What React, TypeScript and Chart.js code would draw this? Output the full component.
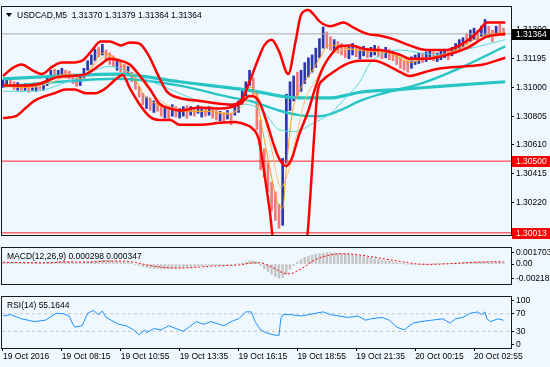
import React, { useEffect, useRef } from 'react';
import { Chart, registerables } from 'chart.js';
Chart.register(...registerables);

const FONT = '"Liberation Sans", Arial, sans-serif';
const FS = 8.5;
const BG = '#f0f8ff';
const UP = '#2b35b0';
const DOWN = '#f07a7a';

const mainTitle = 'USDCAD,M5  1.31370 1.31379 1.31364 1.31364';
const macdTitle = 'MACD(12,26,9) 0.000298 0.000347';
const rsiTitle = 'RSI(14) 55.1644';

const dateBars = [0, 32, 64, 96, 128, 160, 192, 224, 256];
const dateLabels = ['19 Oct 2016', '19 Oct 08:15', '19 Oct 10:55', '19 Oct 13:35', '19 Oct 16:15', '19 Oct 18:55', '19 Oct 21:35', '20 Oct 00:15', '20 Oct 02:55'];
const priceTicks = [1.3022, 1.30415, 1.3061, 1.30805, 1.31, 1.31195, 1.3139];
const macdTicks = [0.001703, 0, -0.002186];
const macdTickText = ['0.001703', '0.00', '-0.002186'];
const rsiTicks = [100, 70, 30, 0];

const barStep = 2;
const barHigh = [
  1.31052, 1.31065, 1.31059, 1.31039, 1.31033, 1.3102, 1.31026, 1.31013, 1.31026, 1.3102,
  1.31033, 1.31026, 1.31078, 1.31117, 1.31124, 1.31117, 1.3113, 1.31117, 1.31111, 1.31078,
  1.31065, 1.31078, 1.3113, 1.31182, 1.31221, 1.3126, 1.31273, 1.31293, 1.31254, 1.31234,
  1.31215, 1.31195, 1.31169, 1.31156, 1.31143, 1.31104, 1.31065, 1.31007, 1.30961, 1.30935,
  1.30929, 1.30909, 1.30903, 1.30883, 1.3087, 1.30857, 1.30883, 1.3087, 1.30857, 1.3087,
  1.30877, 1.3087, 1.30864, 1.30877, 1.30857, 1.30864, 1.3087, 1.30857, 1.30844, 1.30838,
  1.30831, 1.30844, 1.30818, 1.3089, 1.30909, 1.30974, 1.31039, 1.31117, 1.31065, 1.30974,
  1.30779, 1.30584, 1.30487, 1.30357, 1.30292, 1.30207, 1.30519, 1.30955, 1.31039, 1.31078,
  1.31104, 1.31117, 1.31169, 1.31202, 1.31221, 1.31267, 1.31332, 1.3141, 1.31377, 1.31345,
  1.31325, 1.31312, 1.31299, 1.31286, 1.31273, 1.31299, 1.31286, 1.31273, 1.3128, 1.31267,
  1.31273, 1.31286, 1.3128, 1.3126, 1.31273, 1.3126, 1.31247, 1.31234, 1.31202, 1.31182,
  1.31182, 1.31208, 1.31221, 1.31234, 1.31234, 1.31241, 1.31254, 1.31241, 1.31234, 1.31247,
  1.3126, 1.31247, 1.31273, 1.31299, 1.31325, 1.31338, 1.31364, 1.3139, 1.31403, 1.3139,
  1.31416, 1.31462, 1.31416, 1.3139, 1.31416, 1.31429, 1.31403,
];
const barLow = [
  1.31, 1.31013, 1.31007, 1.30987, 1.30981, 1.30974, 1.30981, 1.30968, 1.30981, 1.30974,
  1.30987, 1.30981, 1.31013, 1.31065, 1.31078, 1.31072, 1.31085, 1.31065, 1.31059, 1.31026,
  1.31007, 1.31013, 1.31065, 1.31117, 1.31156, 1.31182, 1.31208, 1.31221, 1.31189, 1.31156,
  1.31143, 1.31117, 1.31104, 1.31091, 1.31085, 1.31039, 1.30987, 1.30935, 1.30883, 1.30857,
  1.30844, 1.30831, 1.30838, 1.30805, 1.30792, 1.30779, 1.30805, 1.30799, 1.30792, 1.30805,
  1.30792, 1.30812, 1.30805, 1.30825, 1.30799, 1.30805, 1.30812, 1.30792, 1.30779, 1.30773,
  1.30766, 1.30786, 1.30747, 1.30812, 1.30831, 1.30883, 1.30942, 1.31013, 1.30942, 1.30714,
  1.30441, 1.30389, 1.30292, 1.30162, 1.30097, 1.30045, 1.30064, 1.30487, 1.30844, 1.30909,
  1.30942, 1.30974, 1.31026, 1.31072, 1.31104, 1.31137, 1.31202, 1.31267, 1.31267, 1.31254,
  1.31247, 1.31234, 1.31221, 1.31202, 1.31195, 1.31221, 1.31208, 1.31195, 1.31215, 1.31202,
  1.31208, 1.31221, 1.31208, 1.31195, 1.31202, 1.31189, 1.31182, 1.31156, 1.3113, 1.31117,
  1.31104, 1.3113, 1.31156, 1.31163, 1.31169, 1.31176, 1.31189, 1.31182, 1.31176, 1.31189,
  1.31202, 1.31189, 1.31215, 1.31234, 1.31254, 1.31273, 1.31293, 1.31312, 1.31325, 1.31312,
  1.31345, 1.31338, 1.31338, 1.31312, 1.31351, 1.31364, 1.31351,
];
const barDir =
  'uuddududuu' + 'duuuduuddd' + 'duuuuududd' + 'dudduddddu' + 'duddududuu' +
  'duduududdu' + 'duduuuuudd' + 'dddddduuuu' + 'duuuuuuudd' + 'uddduuduud' +
  'uudduddddd' + 'duuuduuduu' + 'uduuuuduud' + 'uuddudd';

type P = [number, number];
const bbUpper: P[] = [
  [0, 1.31078], [5, 1.3113], [10, 1.31156], [16, 1.31117], [21, 1.31091], [27, 1.31143], [32, 1.31169],
  [37, 1.31169], [43, 1.31182], [48, 1.31247], [53, 1.31312], [58, 1.31312], [64, 1.31286], [69, 1.31306],
  [74, 1.31299], [79, 1.31221], [84, 1.31091], [89, 1.30974], [96, 1.30929], [107, 1.30909], [118, 1.3089],
  [124, 1.30883], [130, 1.30922], [134, 1.31039], [139, 1.31202], [142, 1.31286], [146, 1.31325],
  [150, 1.31247], [155, 1.31091], [159, 1.31312], [162, 1.31494], [166, 1.31527], [169, 1.31494],
  [172, 1.31449], [178, 1.31416], [185, 1.31442], [191, 1.31403], [198, 1.31364], [205, 1.31351],
  [213, 1.31325], [221, 1.31286], [230, 1.31254], [241, 1.31254], [248, 1.31286], [254, 1.31332],
  [259, 1.3139], [263, 1.31442], [273, 1.31442],
];
const bbMiddle: P[] = [
  [0, 1.31013], [9, 1.31013], [20, 1.31026], [28, 1.31065], [36, 1.31078], [45, 1.31091], [53, 1.31156],
  [58, 1.31195], [64, 1.31182], [69, 1.31156], [74, 1.31085], [80, 1.30987], [85, 1.3089], [91, 1.30857],
  [96, 1.30844], [107, 1.30864], [118, 1.30857], [129, 1.3089], [134, 1.30942], [139, 1.30909],
  [143, 1.30779], [147, 1.30617], [150, 1.30519], [154, 1.30467], [157, 1.30519], [161, 1.30682],
  [166, 1.30844], [170, 1.31007], [174, 1.31137], [179, 1.31234], [183, 1.3128], [189, 1.31286],
  [197, 1.3126], [205, 1.31254], [216, 1.31221], [221, 1.31195], [230, 1.31195], [241, 1.31221],
  [252, 1.31267], [263, 1.31345], [273, 1.31364],
];
const bbLower: P[] = [
  [0, 1.30792], [7, 1.30805], [12, 1.30857], [17, 1.30909], [23, 1.30942], [28, 1.30961], [34, 1.30987],
  [39, 1.30987], [45, 1.30961], [50, 1.30961], [55, 1.30987], [61, 1.31052], [65, 1.31085], [69, 1.30994],
  [74, 1.3089], [80, 1.30799], [85, 1.30779], [91, 1.30779], [96, 1.30747], [107, 1.30747], [118, 1.3076],
  [126, 1.30766], [132, 1.30747], [135, 1.30727], [139, 1.30649], [142, 1.30422], [145, 1.30162],
  [147, 1.29967], [156, 1.29935], [165, 1.29967], [167, 1.30259], [169, 1.30649], [171, 1.30974],
  [174, 1.31052], [178, 1.31091], [186, 1.31156], [194, 1.31182], [202, 1.31182], [210, 1.31143],
  [216, 1.31104], [221, 1.31078], [229, 1.31104], [238, 1.3113], [250, 1.31143], [261, 1.31156],
  [273, 1.31202],
];
const maSlow: P[] = [
  [0, 1.31059], [31, 1.31078], [62, 1.31091], [96, 1.31039], [134, 1.30981], [161, 1.30929],
  [178, 1.30929], [194, 1.30968], [216, 1.30987], [243, 1.31013], [273, 1.31039],
];
const maMid: P[] = [
  [0, 1.31007], [31, 1.31039], [62, 1.31059], [96, 1.31013], [123, 1.30935], [134, 1.30909],
  [150, 1.30844], [161, 1.30812], [172, 1.30805], [183, 1.30844], [194, 1.30909], [205, 1.30955],
  [227, 1.31026], [248, 1.3113], [273, 1.3128],
];
const maThin: P[] = [
  [0, 1.30974], [16, 1.30974], [35, 1.31039], [47, 1.31104], [58, 1.31143], [74, 1.31072], [91, 1.30987],
  [107, 1.30909], [123, 1.3089], [134, 1.30883], [142, 1.30831], [150, 1.30714], [159, 1.30701],
  [168, 1.30753], [178, 1.30825], [187, 1.30942], [194, 1.31039], [199, 1.31156], [207, 1.31234],
  [216, 1.31254], [227, 1.31234], [238, 1.31221], [248, 1.31247], [259, 1.3128], [273, 1.31325],
];
const emaFast: P[] = [
  [0, 1.31013], [12, 1.31], [24, 1.31039], [31, 1.31085], [37, 1.31091], [42, 1.31059], [48, 1.31137],
  [54, 1.31234], [60, 1.31208], [65, 1.31143], [72, 1.31052], [77, 1.30942], [83, 1.3089], [91, 1.30851],
  [102, 1.30838], [112, 1.30838], [122, 1.30818], [129, 1.30883], [134, 1.31], [137, 1.30974],
  [141, 1.30714], [145, 1.30454], [149, 1.30227], [152, 1.30181], [154, 1.30454], [157, 1.30812],
  [161, 1.30974], [167, 1.31091], [172, 1.31195], [177, 1.31286], [182, 1.31286], [189, 1.3126],
  [199, 1.31247], [210, 1.31234], [221, 1.31169], [229, 1.31195], [240, 1.31228], [249, 1.31273],
  [258, 1.31338], [266, 1.31364], [273, 1.31371],
];
const emaSlow: P[] = [
  [0, 1.31007], [15, 1.31], [27, 1.31039], [36, 1.31078], [45, 1.31091], [51, 1.31169], [57, 1.31215],
  [64, 1.31182], [72, 1.31104], [80, 1.30974], [88, 1.3089], [99, 1.30844], [112, 1.30838], [124, 1.30825],
  [132, 1.30896], [137, 1.30961], [141, 1.30844], [146, 1.30584], [151, 1.30324], [155, 1.30422],
  [159, 1.30649], [164, 1.30909], [170, 1.31052], [175, 1.31169], [182, 1.31247], [189, 1.3126],
  [199, 1.31247], [210, 1.31234], [222, 1.31182], [232, 1.31202], [243, 1.31234], [253, 1.31286],
  [262, 1.31338], [273, 1.31358],
];
const bidPrice = 1.31364;
const levelLine = 1.305;
const lowLine = 1.30013;

const macdHist = [
  0.00025, 0.00026, 0.00024, 0.00022, 0.0002, 0.00018, 0.00018, 0.00016, 0.00017, 0.00016,
  0.00017, 0.00018, 0.00024, 0.00032, 0.00036, 0.00038, 0.0004, 0.00039, 0.00036, 0.0003,
  0.00024, 0.00022, 0.00026, 0.00032, 0.0004, 0.00048, 0.00054, 0.00058, 0.00056, 0.00052,
  0.00046, 0.0004, 0.00034, 0.00028, 0.00022, 0.0001, -0.00006, -0.00022, -0.00038, -0.0005,
  -0.0006, -0.00066, -0.0007, -0.00072, -0.00072, -0.0007, -0.00066, -0.00062, -0.00058, -0.00052,
  -0.00048, -0.00042, -0.00036, -0.0003, -0.00026, -0.00022, -0.00018, -0.00016, -0.00015, -0.00016,
  -0.00016, -0.00014, -0.00016, -0.00008, 0.00002, 0.00016, 0.0003, 0.00046, 0.0005, 0.0003,
  -0.0002, -0.0007, -0.0011, -0.0015, -0.00185, -0.0021, -0.002, -0.0015, -0.0008, -0.0002,
  0.0003, 0.0007, 0.001, 0.0012, 0.00135, 0.00145, 0.00155, 0.00163, 0.00168, 0.0017,
  0.00168, 0.00165, 0.0016, 0.00152, 0.00145, 0.00138, 0.00128, 0.00118, 0.00108, 0.00098,
  0.00088, 0.00078, 0.00068, 0.00058, 0.0005, 0.00042, 0.00034, 0.00024, 0.00012, 0.00002,
  -0.00008, -0.0001, -0.00008, -0.00006, -0.00004, -0.00002, 0, 0.00002, 0.00004, 0.00006,
  0.00008, 0.0001, 0.00012, 0.00016, 0.0002, 0.00024, 0.00028, 0.00032, 0.00034, 0.00034,
  0.00036, 0.00036, 0.00035, 0.00034, 0.00032, 0.0003, 0.000298,
];
const macdSignal: P[] = [
  [0, 0.00028], [8, 0.00024], [16, 0.0002], [24, 0.0002], [32, 0.0003], [40, 0.00032], [48, 0.0003],
  [56, 0.00044], [64, 0.00046], [72, 0.00024], [80, -0.00022], [88, -0.0005], [96, -0.0006],
  [104, -0.0005], [112, -0.00034], [120, -0.00022], [128, -0.00014], [136, 0.00018], [140, 0.0002],
  [144, -0.0002], [148, -0.0007], [152, -0.0013], [156, -0.00145], [160, -0.001], [164, -0.0004],
  [168, 0.0004], [172, 0.0009], [176, 0.00125], [180, 0.00145], [184, 0.00155], [188, 0.00152],
  [192, 0.00142], [200, 0.0011], [208, 0.00075], [216, 0.0004], [224, 0.00006], [232, -0.00004],
  [240, 0.00002], [248, 0.00014], [256, 0.00026], [264, 0.00033], [272, 0.000347],
];
const rsiValues: P[] = [
  [0, 64.9], [4, 68.1], [10, 58.6], [17, 52.2], [23, 55.4], [29, 71.3], [33, 70], [36, 64.9], [38, 45.9],
  [39, 39.5], [43, 42.7], [46, 71.3], [49, 77.6], [52, 68.1], [54, 76.4], [56, 61.7], [63, 45.9],
  [67, 42.7], [71, 33.2], [74, 21.7], [77, 33.2], [78, 26.8], [82, 36.3], [86, 33.2], [90, 42.7],
  [94, 36.3], [98, 30], [101, 39.5], [105, 52.2], [109, 45.9], [113, 52.2], [120, 42.7], [124, 52.2],
  [128, 58.6], [132, 74.4], [135, 74.4], [137, 52.2], [140, 33.2], [143, 26.8], [147, 21.7], [150, 20.5],
  [151, 58.6], [152, 68.1], [157, 68.1], [162, 64.9], [170, 71.3], [174, 74.4], [178, 68.1], [181, 66.2],
  [187, 61.7], [193, 64.9], [197, 55.4], [200, 58.6], [206, 61.7], [210, 55.4], [214, 39.5], [218, 33.2],
  [220, 39.5], [223, 49], [227, 52.2], [233, 55.4], [239, 58.6], [243, 49], [246, 58.6], [250, 61.7],
  [254, 71.3], [258, 74.4], [260, 68.1], [262, 74.4], [263, 58.6], [265, 52.2], [269, 58.6], [272, 55.1644],
];
const rsiLevels = [70, 30];

const xMin = -0.54;
const xMax = 276.1;

const pts = (a: P[]) => a.map(([x, y]) => ({ x, y }));
const font = { family: FONT, size: FS };

const lineDs = (arr: P[], color: string, width: number, order: number, extra: any = {}) => ({
  type: 'line',
  data: pts(arr),
  borderColor: color,
  borderWidth: width,
  pointRadius: 0,
  fill: false,
  cubicInterpolationMode: 'monotone',
  order,
  ...extra,
});
const hLine = (v: number, color: string, order: number, extra: any = {}) => ({
  type: 'line',
  data: [{ x: xMin, y: v }, { x: xMax, y: v }],
  borderColor: color,
  borderWidth: 1,
  pointRadius: 0,
  fill: false,
  order,
  ...extra,
});

const xAxisHidden = { type: 'linear', min: xMin, max: xMax, display: false, offset: false, grid: { offset: false } };

const yAxisBase = (min: number, max: number, tickVals: number[], fmt: (v: number, i: number) => string) => ({
  position: 'right',
  min,
  max,
  afterFit: (s: any) => { s.width = 39; },
  afterBuildTicks: (s: any) => { s.ticks = tickVals.map((v) => ({ value: v })); },
  ticks: { callback: (v: any, i: number) => fmt(+v, i), font, color: '#000', padding: 2, autoSkip: false },
  grid: { drawOnChartArea: false, drawTicks: true, tickLength: 3, tickColor: '#000' },
  border: { display: false },
});

const frame = (title: string, marks?: { value: number; bg: string; fg: string }[]) => ({
  id: 'frame',
  afterDraw(chart: any) {
    const { ctx, chartArea: a } = chart;
    ctx.save();
    ctx.strokeStyle = '#1a1a1a';
    ctx.lineWidth = 1;
    ctx.strokeRect(Math.round(a.left) - 0.5, Math.round(a.top) - 0.5, Math.round(a.right - a.left) + 1, Math.round(a.bottom - a.top) + 1);
    ctx.fillStyle = '#000';
    ctx.font = `${FS}px ${FONT}`;
    ctx.textBaseline = 'middle';
    ctx.textAlign = 'left';
    let tx = a.left + 5;
    if (marks) {
      ctx.beginPath();
      ctx.moveTo(a.left + 4, a.top + 6);
      ctx.lineTo(a.left + 10, a.top + 6);
      ctx.lineTo(a.left + 7, a.top + 10);
      ctx.closePath();
      ctx.fill();
      tx = a.left + 15;
    }
    ctx.fillText(title, tx, a.top + 8.5);
    if (marks) {
      const y = chart.scales.y;
      for (const m of marks) {
        const py = Math.round(y.getPixelForValue(m.value));
        ctx.fillStyle = m.bg;
        ctx.fillRect(a.right + 1, py - 5, chart.width - a.right - 1, 11);
        ctx.fillStyle = m.fg;
        ctx.fillText(m.value.toFixed(5), a.right + 5, py + 0.5);
      }
    }
    ctx.restore();
  },
});

const common = {
  responsive: false,
  animation: false,
  devicePixelRatio: 1,
  plugins: { legend: { display: false }, tooltip: { enabled: false } },
  elements: { point: { radius: 0 } },
};

function mainConfig(): any {
  return {
    type: 'line',
    data: {
      datasets: [
        {
          type: 'bar',
          data: barHigh.map((h, k) => ({ x: k * barStep, y: [barLow[k], h] })),
          backgroundColor: barDir.split('').map((c) => (c === 'u' ? UP : DOWN)),
          barThickness: 2,
          order: 30,
        },
        hLine(bidPrice, '#a8a8a8', 25),
        hLine(levelLine, '#ff2020', 25),
        hLine(lowLine, '#ff2020', 25),
        lineDs(maSlow, '#26c4c4', 3.2, 20),
        lineDs(maMid, '#26c4c4', 2.4, 19),
        lineDs(maThin, '#5ad8d8', 1, 18),
        lineDs(emaSlow, '#ffbf70', 1, 17),
        lineDs(emaFast, '#ff9a1a', 1, 16),
        lineDs(bbLower, '#ff0000', 2.5, 5),
        lineDs(bbMiddle, '#ff0000', 2.5, 5),
        lineDs(bbUpper, '#ff0000', 2.5, 5),
      ],
    },
    options: {
      ...common,
      layout: { padding: { left: 2, top: 2, right: 0, bottom: 2 } },
      scales: {
        x: xAxisHidden,
        y: yAxisBase(1.29999, 1.31546, priceTicks, (v) => v.toFixed(5)),
      },
    },
    plugins: [
      frame(mainTitle, [
        { value: bidPrice, bg: '#000', fg: '#fff' },
        { value: levelLine, bg: '#ff0000', fg: '#fff' },
        { value: lowLine, bg: '#ff0000', fg: '#fff' },
      ]),
    ],
  };
}

function macdConfig(): any {
  return {
    type: 'line',
    data: {
      datasets: [
        {
          type: 'bar',
          data: macdHist.map((v, k) => ({ x: k * barStep, y: v })),
          backgroundColor: '#c4c4c4',
          barThickness: 1.8,
          order: 10,
        },
        lineDs(macdSignal, '#ff0000', 1, 1, { borderDash: [2, 2] }),
      ],
    },
    options: {
      ...common,
      layout: { padding: { left: 2, top: 1, right: 0, bottom: 2 } },
      scales: {
        x: xAxisHidden,
        y: yAxisBase(-0.00296, 0.00239, macdTicks, (_v, i) => macdTickText[i]),
      },
    },
    plugins: [frame(macdTitle)],
  };
}

function rsiConfig(): any {
  return {
    type: 'line',
    data: {
      datasets: [
        ...rsiLevels.map((v) => hLine(v, '#c0c0c0', 5, { borderDash: [3, 3] })),
        lineDs(rsiValues, '#1e90ff', 1, 1, { cubicInterpolationMode: 'default', tension: 0 }),
      ],
    },
    options: {
      ...common,
      layout: { padding: { left: 2, top: 1, right: 0, bottom: 0 } },
      scales: {
        x: {
          type: 'linear',
          min: xMin,
          max: xMax,
          offset: false,
          position: 'bottom',
          afterFit: (s: any) => { s.height = 19; },
          afterBuildTicks: (s: any) => { s.ticks = dateBars.map((v) => ({ value: v })); },
          ticks: {
            callback: (_v: any, i: number) => dateLabels[i],
            font,
            color: '#000',
            align: 'start',
            padding: 1,
            maxRotation: 0,
            autoSkip: false,
          },
          grid: { offset: false, drawOnChartArea: false, drawTicks: true, tickLength: 3, tickColor: '#000' },
          border: { display: false },
        },
        y: yAxisBase(-8.2, 108.2, rsiTicks, (v) => String(v)),
      },
    },
    plugins: [frame(rsiTitle)],
  };
}

export default function App() {
  const mainRef = useRef<HTMLCanvasElement>(null);
  const macdRef = useRef<HTMLCanvasElement>(null);
  const rsiRef = useRef<HTMLCanvasElement>(null);
  useEffect(() => {
    const charts = [
      new Chart(mainRef.current as HTMLCanvasElement, mainConfig()),
      new Chart(macdRef.current as HTMLCanvasElement, macdConfig()),
      new Chart(rsiRef.current as HTMLCanvasElement, rsiConfig()),
    ];
    return () => charts.forEach((c) => c.destroy());
  }, []);
  return (
    <div style={{ position: 'absolute', left: 0, top: 0, width: 550, height: 367, background: BG, overflow: 'hidden' }}>
      <canvas ref={mainRef} width={550} height={242} style={{ position: 'absolute', left: 0, top: 0 }} />
      <canvas ref={macdRef} width={550} height={50} style={{ position: 'absolute', left: 0, top: 241 }} />
      <canvas ref={rsiRef} width={550} height={77} style={{ position: 'absolute', left: 0, top: 290 }} />
    </div>
  );
}
